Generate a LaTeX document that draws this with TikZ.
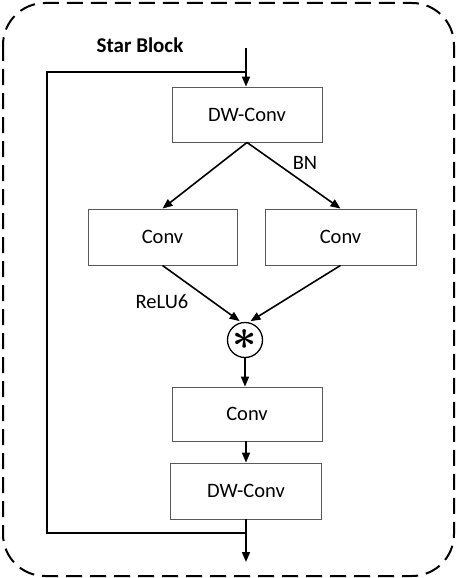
\documentclass[tikz,border=0pt]{standalone}
\usepackage{amsmath,amssymb,bm}
\usepackage{fontspec}
\setmainfont{Carlito}
\usetikzlibrary{arrows.meta,calc}
\definecolor{boxG}{RGB}{89,89,89}

\begin{document}
\begin{tikzpicture}[x=1pt,y=-1pt,>={Triangle[length=10pt,width=8pt]},
  blk/.style={draw=boxG,line width=0.9pt,minimum width=150pt,minimum height=55pt,inner sep=0pt,font=\fontsize{20.5}{24}\selectfont},
  lbl/.style={font=\fontsize{20.5}{24}\selectfont,inner sep=0pt},
  flow/.style={->,line width=1.6pt}]
\useasboundingbox (0,0) rectangle (456,578);
\draw[line width=2pt,dash pattern=on 16pt off 8pt,rounded corners=42pt] (3,3) rectangle (454,576);
\node[lbl,font=\fontsize{21}{24}\selectfont\bfseries] (title) at (140,45) {Star Block};
\coordinate (in) at (246,48); \coordinate (out) at (246,562);
\coordinate (skipT) at (47,72); \coordinate (skipB) at (47,533);
\node[blk] (dw1) at (247,114.5) {DW-Conv};
\node[blk,minimum width=149pt,minimum height=56pt] (convL) at (162.5,237) {Conv};
\node[blk,minimum width=151pt,minimum height=56pt] (convR) at (340.5,237) {Conv};
\node[draw,circle,line width=1.3pt,minimum size=35pt,inner sep=0pt] (mul) at (245,340) {\raisebox{-2pt}{\scalebox{1.7}{\fontsize{24.88}{26}\selectfont$\bm{\ast}$}}};
\node[blk,minimum height=54pt] (conv3) at (247,414) {Conv};
\node[blk,minimum width=151pt,minimum height=56pt] (dw2) at (246,491) {DW-Conv};
\draw[flow] (in) -- (dw1.north -| in);
\draw[line width=1.6pt] (in |- skipT) -- (skipT) -- (skipB) -- (skipB -| out);
\draw[flow] (dw1.south) -- (convL.north);
\draw[flow] (dw1.south) -- (convR.north);
\draw[flow,shorten >=2pt] (convL.south) -- (mul.102);
\draw[flow,shorten >=2pt] (convR.south) -- (mul.78);
\draw[flow] (mul.south) -- (mul.south |- conv3.north);
\draw[flow] (conv3.south -| dw2.north) -- (dw2.north);
\draw[flow] (dw2.south) -- (out);
\node[lbl] (bn) at (305,163) {BN};
\node[lbl] (relu) at (162,302) {ReLU6};
\end{tikzpicture}
\end{document}
